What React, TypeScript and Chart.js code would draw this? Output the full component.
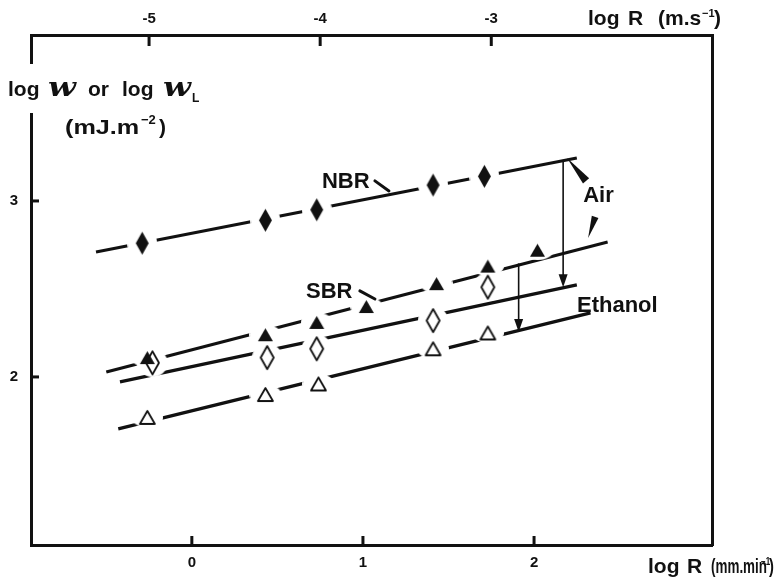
import React, { useEffect, useRef } from "react";
import { Chart, registerables } from "chart.js";

Chart.register(...registerables);

const INK = "#111111";
const SANS = "'Liberation Sans', Arial, sans-serif";
const SERIF = "'DejaVu Serif', 'Liberation Serif', serif";

// ---- axes ----
const X_MIN = -0.94;
const X_MAX = 3.04;
const Y_MIN = 1.045;
const Y_MAX = 3.943;
const TOP_SHIFT = -4.75; // log R (m/s) = log R (mm/min) + shift
const BOTTOM_TICKS = [0, 1, 2];
const TOP_TICKS = [-5, -4, -3];
const LEFT_TICKS = [2, 3];

// ---- data: NBR in air (filled diamonds) ----
const NBR_AIR_X = [-0.29, 0.43, 0.73, 1.41, 1.71];
const NBR_AIR_Y = [2.76, 2.89, 2.95, 3.09, 3.14];
// SBR in air (filled triangles)
const SBR_AIR_X = [-0.26, 0.43, 0.73, 1.02, 1.43, 1.73, 2.02];
const SBR_AIR_Y = [2.11, 2.24, 2.31, 2.4, 2.53, 2.63, 2.72];
// NBR in ethanol (open diamonds)
const NBR_ETH_X = [-0.23, 0.44, 0.73, 1.41, 1.73];
const NBR_ETH_Y = [2.08, 2.11, 2.16, 2.32, 2.51];
// SBR in ethanol (open triangles)
const SBR_ETH_X = [-0.26, 0.43, 0.74, 1.41, 1.73];
const SBR_ETH_Y = [1.77, 1.9, 1.96, 2.16, 2.25];

// ---- fitted lines (end points) ----
const NBR_AIR_FIT_X = [-0.56, 2.25];
const NBR_AIR_FIT_Y = [2.71, 3.244];
const SBR_AIR_FIT_X = [-0.5, 2.43];
const SBR_AIR_FIT_Y = [2.028, 2.767];
const NBR_ETH_FIT_X = [-0.42, 2.25];
const NBR_ETH_FIT_Y = [1.972, 2.523];
const SBR_ETH_FIT_X = [-0.43, 2.33];
const SBR_ETH_FIT_Y = [1.705, 2.364];

// ---- annotations (data units) ----
const ETH_ARROW_X = [2.17, 1.91];
const ETH_ARROW_FROM = [3.23, 2.645];
const ETH_ARROW_TO = [2.51, 2.256];
const SERIES_LABELS = ["NBR", "SBR", "Air", "Ethanol"];
const SERIES_LABEL_X = [0.76, 0.667, 2.287, 2.251];
const SERIES_LABEL_Y = [3.074, 2.449, 2.994, 2.369];

const pts = (xs: number[], ys: number[]) => xs.map((x, i) => ({ x, y: ys[i] }));

function markerCanvas(kind: "diamond" | "triangle", filled: boolean) {
  const W = kind === "diamond" ? 13 : 15;
  const H = kind === "diamond" ? 23 : 13;
  const c = document.createElement("canvas");
  c.width = W + 6;
  c.height = H + 6;
  const g = c.getContext("2d")!;
  const cx = c.width / 2;
  const cy = c.height / 2;
  g.beginPath();
  if (kind === "diamond") {
    g.moveTo(cx, cy - H / 2);
    g.lineTo(cx + W / 2, cy);
    g.lineTo(cx, cy + H / 2);
    g.lineTo(cx - W / 2, cy);
  } else {
    g.moveTo(cx, cy - H / 2);
    g.lineTo(cx + W / 2, cy + H / 2);
    g.lineTo(cx - W / 2, cy + H / 2);
  }
  g.closePath();
  if (filled) {
    g.fillStyle = INK;
    g.fill();
  } else {
    g.fillStyle = "#fff";
    g.fill();
    g.lineWidth = 1.8;
    g.lineJoin = "round";
    g.strokeStyle = INK;
    g.stroke();
  }
  return c;
}

function haloCanvas(rx: number, ry: number) {
  const c = document.createElement("canvas");
  c.width = rx * 2;
  c.height = ry * 2;
  const g = c.getContext("2d")!;
  g.fillStyle = "#fff";
  g.beginPath();
  g.ellipse(rx, ry, rx, ry, 0, 0, Math.PI * 2);
  g.fill();
  return c;
}

function drawText(
  ctx: CanvasRenderingContext2D,
  s: string,
  x: number,
  y: number,
  size: number,
  opts: { italic?: boolean; family?: string; sx?: number } = {}
) {
  ctx.save();
  ctx.font = `${opts.italic ? "italic " : ""}bold ${size}px ${opts.family || SANS}`;
  ctx.textAlign = "left";
  ctx.textBaseline = "alphabetic";
  ctx.fillStyle = INK;
  ctx.translate(x, y);
  ctx.scale(opts.sx || 1, 1);
  ctx.fillText(s, 0, 0);
  ctx.restore();
}

const annotations = {
  id: "annotations",
  afterDraw(chart: any) {
    const { ctx, chartArea: ca, scales } = chart;
    const X = (v: number) => scales.x.getPixelForValue(v);
    const Y = (v: number) => scales.y.getPixelForValue(v);
    const line = (x1: number, y1: number, x2: number, y2: number, w: number) => {
      ctx.beginPath();
      ctx.lineWidth = w;
      ctx.moveTo(x1, y1);
      ctx.lineTo(x2, y2);
      ctx.stroke();
    };
    const tri = (p: number[][]) => {
      ctx.beginPath();
      ctx.moveTo(p[0][0], p[0][1]);
      ctx.lineTo(p[1][0], p[1][1]);
      ctx.lineTo(p[2][0], p[2][1]);
      ctx.closePath();
      ctx.fill();
    };
    const wedge = (tx: number, ty: number, bx: number, by: number, hw: number) => {
      const dx = bx - tx;
      const dy = by - ty;
      const L = Math.hypot(dx, dy);
      const nx = -dy / L;
      const ny = dx / L;
      tri([
        [tx, ty],
        [bx + nx * hw, by + ny * hw],
        [bx - nx * hw, by - ny * hw],
      ]);
    };

    ctx.save();
    ctx.strokeStyle = INK;
    ctx.fillStyle = INK;
    ctx.lineCap = "butt";

    // inward tick marks
    scales.x.ticks.forEach((t: any) => {
      const px = scales.x.getPixelForValue(t.value);
      line(px, ca.bottom, px, ca.bottom - 9, 3);
    });
    scales.xTop.ticks.forEach((t: any) => {
      const px = scales.xTop.getPixelForValue(t.value);
      line(px, ca.top, px, ca.top + 11, 3);
    });
    scales.y.ticks.forEach((t: any) => {
      const py = scales.y.getPixelForValue(t.value);
      line(ca.left, py, ca.left + 8, py, 3);
    });

    // vertical arrows (air -> ethanol)
    ETH_ARROW_X.forEach((xv, i) => {
      const px = X(xv);
      const y1 = Y(ETH_ARROW_FROM[i]);
      const y2 = Y(ETH_ARROW_TO[i]);
      line(px, y1, px, y2 - 8, 1.6);
      tri([
        [px, y2],
        [px - 4.5, y2 - 13],
        [px + 4.5, y2 - 13],
      ]);
    });

    // "Air" pointers
    wedge(X(2.193), Y(3.244), X(2.304), Y(3.114), 4);
    wedge(X(2.316), Y(2.79), X(2.357), Y(2.909), 3.5);

    // small label pointers
    ctx.lineCap = "round";
    line(X(1.07), Y(3.114), X(1.152), Y(3.057), 3);
    line(X(0.982), Y(2.489), X(1.07), Y(2.443), 3);

    // series labels
    SERIES_LABELS.forEach((s, i) => {
      drawText(ctx, s, X(SERIES_LABEL_X[i]), Y(SERIES_LABEL_Y[i]), 22);
    });

    // y-axis title (gap in the axis line)
    ctx.fillStyle = "#fff";
    ctx.fillRect(ca.left - 4, ca.top + 29, 8, 49);
    const l = 8;
    drawText(ctx, "log", l, 96, 21);
    drawText(ctx, "w", l + 40, 96, 26, { italic: true, family: SERIF, sx: 1.25 });
    drawText(ctx, "or", l + 80, 96, 21);
    drawText(ctx, "log", l + 114, 96, 21);
    drawText(ctx, "w", l + 155, 96, 26, { italic: true, family: SERIF, sx: 1.25 });
    drawText(ctx, "L", l + 184, 102, 12);
    drawText(ctx, "(mJ.m", 65, 134, 21, { sx: 1.2 });
    drawText(ctx, "\u22122", 141, 124, 13);
    drawText(ctx, ")", 159, 134, 21);

    // top-right axis title
    const tr = ca.right - 124;
    drawText(ctx, "log", tr, 25, 21);
    drawText(ctx, "R", tr + 40, 25, 21);
    drawText(ctx, "(m.s", tr + 70, 25, 21);
    drawText(ctx, "\u22121", tr + 114, 17, 11);
    drawText(ctx, ")", tr + 126, 25, 21);

    // bottom-right axis title
    const br = ca.right - 64;
    drawText(ctx, "log", br, 573, 21);
    drawText(ctx, "R", br + 39, 573, 21);
    drawText(ctx, "(mm.min", br + 63, 573, 21, { sx: 0.64 });
    drawText(ctx, "\u22121", br + 113, 565, 10, { sx: 0.8 });
    drawText(ctx, ")", br + 121, 573, 21, { sx: 0.7 });

    ctx.restore();
  },
};

const tickFont = { family: SANS, size: 15, weight: "bold" as const };

function fixedTicks(values: number[]) {
  return (scale: any) => {
    scale.ticks = values.map((v) => ({ value: v }));
  };
}

export default function App() {
  const ref = useRef<HTMLCanvasElement>(null);

  useEffect(() => {
    const fD = markerCanvas("diamond", true);
    const oD = markerCanvas("diamond", false);
    const fT = markerCanvas("triangle", true);
    const oT = markerCanvas("triangle", false);
    const hD = haloCanvas(15, 14);
    const hT = haloCanvas(16, 10);

    const markerSets = [
      { data: pts(NBR_AIR_X, NBR_AIR_Y), style: fD, halo: hD },
      { data: pts(SBR_AIR_X, SBR_AIR_Y), style: fT, halo: hT },
      { data: pts(NBR_ETH_X, NBR_ETH_Y), style: oD, halo: hD },
      { data: pts(SBR_ETH_X, SBR_ETH_Y), style: oT, halo: hT },
    ];
    const fits = [
      pts(NBR_AIR_FIT_X, NBR_AIR_FIT_Y),
      pts(SBR_AIR_FIT_X, SBR_AIR_FIT_Y),
      pts(NBR_ETH_FIT_X, NBR_ETH_FIT_Y),
      pts(SBR_ETH_FIT_X, SBR_ETH_FIT_Y),
    ];

    const datasets: any[] = [];
    markerSets.forEach((m) =>
      datasets.push({ data: m.data, pointStyle: m.style, pointRadius: 6, showLine: false, order: 0 })
    );
    markerSets.forEach((m) =>
      datasets.push({ data: m.data, pointStyle: m.halo, pointRadius: 6, showLine: false, order: 1 })
    );
    fits.forEach((f) =>
      datasets.push({
        data: f,
        showLine: true,
        borderColor: INK,
        borderWidth: 3.2,
        pointRadius: 0,
        order: 2,
      })
    );

    const border = { display: true, color: INK, width: 3 };
    const grid = { display: false, drawTicks: false };

    const chart = new Chart(ref.current!, {
      type: "scatter",
      data: { datasets },
      options: {
        animation: false,
        responsive: false,
        events: [],
        layout: { padding: 0 },
        plugins: { legend: { display: false }, tooltip: { enabled: false } },
        scales: {
          x: {
            type: "linear",
            position: "bottom",
            min: X_MIN,
            max: X_MAX,
            grid,
            border,
            afterBuildTicks: fixedTicks(BOTTOM_TICKS),
            afterFit: (s: any) => {
              s.height = 38;
            },
            ticks: { font: tickFont, color: INK, padding: 9, maxRotation: 0, autoSkip: false, callback: (v: any) => String(v) },
          },
          xTop: {
            type: "linear",
            position: "top",
            min: X_MIN + TOP_SHIFT,
            max: X_MAX + TOP_SHIFT,
            grid,
            border,
            afterBuildTicks: fixedTicks(TOP_TICKS),
            afterFit: (s: any) => {
              s.height = 35;
            },
            ticks: { font: tickFont, color: INK, padding: 7, maxRotation: 0, autoSkip: false, callback: (v: any) => String(v) },
          },
          y: {
            type: "linear",
            position: "left",
            min: Y_MIN,
            max: Y_MAX,
            grid,
            border,
            afterBuildTicks: fixedTicks(LEFT_TICKS),
            afterFit: (s: any) => {
              s.width = 31;
            },
            ticks: { font: tickFont, color: INK, padding: 13, autoSkip: false, callback: (v: any) => String(v) },
          },
          yRight: {
            type: "linear",
            position: "right",
            min: Y_MIN,
            max: Y_MAX,
            grid,
            border,
            ticks: { display: false },
            afterFit: (s: any) => {
              s.width = 63;
            },
          },
        },
      },
      plugins: [annotations],
    } as any);
    return () => chart.destroy();
  }, []);

  return (
    <div style={{ position: "absolute", left: 0, top: 0, width: 775, height: 583, background: "#fff" }}>
      <canvas ref={ref} width={775} height={583} style={{ display: "block", width: 775, height: 583 }} />
    </div>
  );
}
